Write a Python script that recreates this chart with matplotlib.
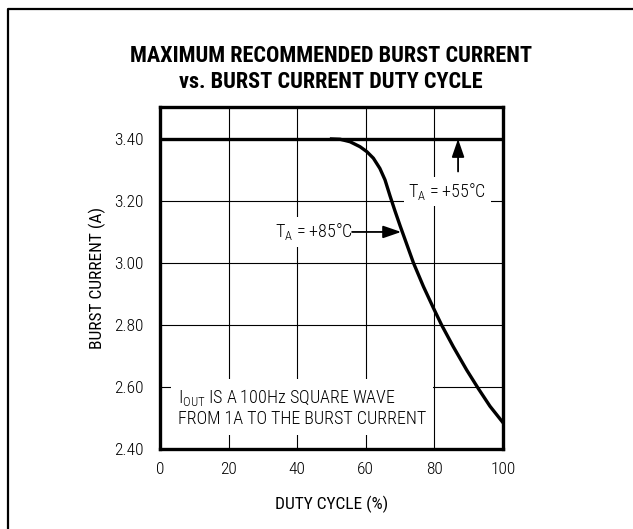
import matplotlib
matplotlib.use("Agg")
import matplotlib.pyplot as plt
from matplotlib.lines import Line2D

FONT = ["Roboto Condensed", "DejaVu Sans"]
plt.rcParams["font.family"] = FONT
plt.rcParams["font.weight"] = "light"
plt.rcParams["mathtext.fontset"] = "custom"
plt.rcParams["mathtext.rm"] = "Roboto Condensed:light"
plt.rcParams["mathtext.it"] = "Roboto Condensed:light"
plt.rcParams["mathtext.bf"] = "Roboto Condensed:bold"

# Data
duty_85 = [50, 52.5, 55.4, 58.3, 60.3, 62.2, 64.1, 65.6, 67.1, 68.5, 70.0, 73.9,
           76.8, 79.7, 82.1, 85.5, 89.4, 92.8, 96.2, 100]
current_85 = [3.40, 3.399, 3.391, 3.375, 3.359, 3.338, 3.305, 3.268, 3.215, 3.168, 3.120, 3.00,
              2.924, 2.855, 2.800, 2.730, 2.655, 2.595, 2.538, 2.485]
duty_55 = [0, 100]
current_55 = [3.40, 3.40]
x_ticks = [0, 20, 40, 60, 80, 100]
y_ticks = [2.40, 2.60, 2.80, 3.00, 3.20, 3.40]
y_tick_labels = ["2.40", "2.60", "2.80", "3.00", "3.20", "3.40"]

W, H = 633, 529
fig = plt.figure(figsize=(W / 100, H / 100), dpi=100)

# outer frame (left and top)
fig.add_artist(Line2D([8 / W, 8 / W, 1.0], [0.0, 1 - 9 / H, 1 - 9 / H],
                      transform=fig.transFigure, color="black", lw=1.6))

ax = fig.add_axes([160 / W, 1 - 449 / H, 343 / W, 342 / H])
ax.set_xlim(0, 100)
ax.set_ylim(2.40, 3.503)
ax.set_xticks(x_ticks)
ax.set_yticks(y_ticks)
ax.set_yticklabels(y_tick_labels)
ax.tick_params(length=0, labelsize=12.5, pad=9)
ax.tick_params(axis="y", pad=12)
ax.grid(True, color="black", lw=0.8)
ax.set_axisbelow(True)
for s in ax.spines.values():
    s.set_linewidth(2.4)
    s.set_zorder(6)

ax.plot(duty_55, current_55, color="black", lw=2.4, solid_capstyle="butt", zorder=5)
ax.plot(duty_85, current_85, color="black", lw=2.4, zorder=5, solid_joinstyle="round")

ax.set_xlabel("DUTY CYCLE (%)", fontsize=12.5, labelpad=14)
ax.set_ylabel("BURST CURRENT (A)", fontsize=12.5, labelpad=6)

arrow = dict(arrowstyle="-|>,head_length=1.1,head_width=0.38", color="black", lw=1.3,
             shrinkA=0, shrinkB=0)
bb = dict(facecolor="white", edgecolor="none", pad=3)
ax.text(83.8, 3.23, r"T$_\mathrm{A}$ = +55°C", fontsize=13, ha="center", va="center",
        bbox=bb, zorder=4)
ax.annotate("", xy=(86.9, 3.40), xytext=(86.9, 3.295), arrowprops=arrow, zorder=4)
ax.text(33.5, 3.10, r"T$_\mathrm{A}$ = +85°C", fontsize=13, ha="left", va="center",
        bbox=bb, zorder=4)
ax.annotate("", xy=(70.3, 3.10), xytext=(56.0, 3.10), arrowprops=arrow, zorder=4)
ax.text(5.3, 2.535, "I$_\\mathrm{OUT}$ IS A 100Hz SQUARE WAVE\nFROM 1A TO THE BURST CURRENT",
        fontsize=13, ha="left", va="center", linespacing=1.15,
        bbox=dict(facecolor="white", edgecolor="none", pad=5), zorder=4)

fig.text(0.523, 1 - 69 / H, "MAXIMUM RECOMMENDED BURST CURRENT\nvs. BURST CURRENT DUTY CYCLE",
         ha="center", va="center", fontsize=16, fontweight="black", linespacing=1.2)

fig.savefig("out.png", dpi=100)
